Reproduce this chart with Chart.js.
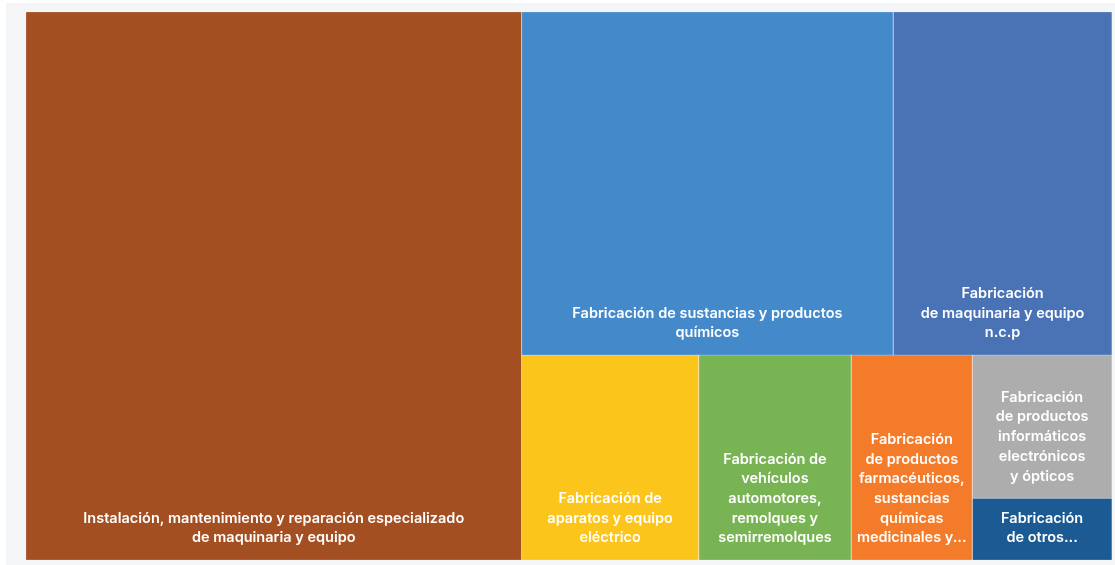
<!DOCTYPE html>
<html lang="es">

<head>
  <meta charset="UTF-8">
  <title>Treemap - Actividad económica</title>
  <script src="https://cdn.jsdelivr.net/npm/chart.js"></script>
  <style>
    html, body {
      margin: 0;
      padding: 0;
      background: #ffffff;
    }
    #panel {
      position: absolute;
      left: 6px;
      top: 3px;
      width: 1109px;
      height: 562px;
      background: #f4f5f7;
    }
    #chartContainer {
      position: absolute;
      left: 0;
      top: 0;
      width: 1115px;
      height: 565px;
    }
  </style>
</head>

<body>
  <div id="panel"></div>
  <div id="chartContainer">
    <canvas id="treemapCanvas"></canvas>
  </div>

  <script>
    // Categories (label lines as shown in each cell)
    const categories = [
      ['Instalación, mantenimiento y reparación especializado', 'de maquinaria y equipo'],
      ['Fabricación de sustancias y productos', 'químicos'],
      ['Fabricación', 'de maquinaria y equipo', 'n.c.p'],
      ['Fabricación de', 'aparatos y equipo', 'eléctrico'],
      ['Fabricación de', 'vehículos', 'automotores,', 'remolques y', 'semirremolques'],
      ['Fabricación', 'de productos', 'farmacéuticos,', 'sustancias', 'químicas', 'medicinales y...'],
      ['Fabricación', 'de productos', 'informáticos', 'electrónicos', 'y ópticos'],
      ['Fabricación', 'de otros...']
    ];

    // Share of each category (%)
    const values = [45.6, 21.4, 12.6, 6.1, 5.25, 4.17, 3.36, 1.45];

    const colors = ['#a44f22', '#448acb', '#4a73b5', '#fcc51c', '#78b453', '#f47b2a', '#adadad', '#1b5a93'];

    // Size of the layout space (same aspect as the plot area)
    const W = 1086, H = 548;

    // Worst aspect ratio of a row laid along a side of given length
    function worst(row, side) {
      const s = row.reduce((a, b) => a + b, 0);
      let w = 0;
      row.forEach(r => {
        w = Math.max(w, (side * side * r) / (s * s), (s * s) / (side * side * r));
      });
      return w;
    }

    // Squarified treemap layout
    function squarify(vals, x, y, w, h) {
      const total = vals.reduce((a, b) => a + b, 0);
      const areas = vals.map(v => v * w * h / total);
      const rects = [];
      let i = 0;
      while (i < areas.length) {
        const horizontal = w / h < 1.1;
        const side = horizontal ? w : h;
        const row = [areas[i]];
        let j = i + 1;
        while (j < areas.length && worst(row.concat(areas[j]), side) <= worst(row, side)) {
          row.push(areas[j]);
          j++;
        }
        const thick = row.reduce((a, b) => a + b, 0) / side;
        let off = 0;
        row.forEach(a => {
          const len = a / thick;
          if (horizontal) {
            rects.push({ x0: x + off, x1: x + off + len, y0: y, y1: y + thick });
          } else {
            rects.push({ x0: x, x1: x + thick, y0: y + off, y1: y + off + len });
          }
          off += len;
        });
        if (horizontal) { y += thick; h -= thick; } else { x += thick; w -= thick; }
        i = j;
      }
      return rects;
    }

    const rects = squarify(values, 0, 0, W, H);

    // Each cell is a closed polygon dataset filled as a shape
    const datasets = rects.map((r, idx) => ({
      label: categories[idx].join(' '),
      data: [
        { x: r.x0, y: r.y0 },
        { x: r.x1, y: r.y0 },
        { x: r.x1, y: r.y1 },
        { x: r.x0, y: r.y1 },
        { x: r.x0, y: r.y0 }
      ],
      backgroundColor: colors[idx],
      borderColor: 'rgba(255,255,255,0.2)',
      borderWidth: 1,
      fill: 'shape',
      pointRadius: 0,
      pointHoverRadius: 0,
      tension: 0,
      cellLines: categories[idx]
    }));

    // Draw the cell labels, bottom aligned and centered
    const cellLabels = {
      id: 'cellLabels',
      afterDatasetsDraw(chart) {
        const ctx = chart.ctx;
        const xs = chart.scales.x, ys = chart.scales.y;
        ctx.save();
        ctx.fillStyle = '#ffffff';
        ctx.font = '600 14.5px Inter';
        ctx.textAlign = 'center';
        ctx.textBaseline = 'middle';
        chart.data.datasets.forEach((ds, idx) => {
          const r = rects[idx];
          const cx = (xs.getPixelForValue(r.x0) + xs.getPixelForValue(r.x1)) / 2;
          const bottom = ys.getPixelForValue(r.y1);
          const lines = ds.cellLines;
          const lh = 19.7;
          lines.forEach((line, k) => {
            const y = bottom - 22 - (lines.length - 1 - k) * lh;
            ctx.fillText(line, cx, y);
          });
        });
        ctx.restore();
      }
    };

    const ctx = document.getElementById('treemapCanvas').getContext('2d');
    const chart = new Chart(ctx, {
      type: 'line',
      data: { datasets: datasets },
      options: {
        responsive: true,
        maintainAspectRatio: false,
        animation: false,
        layout: {
          padding: { left: 26, top: 12, right: 3, bottom: 5 }
        },
        scales: {
          x: { type: 'linear', min: 0, max: W, display: false },
          y: { type: 'linear', min: 0, max: H, reverse: true, display: false }
        },
        plugins: {
          legend: { display: false },
          tooltip: { enabled: false }
        }
      },
      plugins: [cellLabels]
    });
  </script>
</body>

</html>
